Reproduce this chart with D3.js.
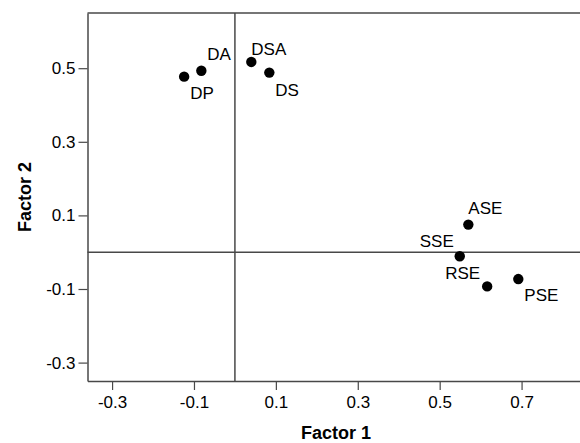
<!DOCTYPE html>
<html>
<head>
<meta charset="utf-8">
<script src="https://cdn.jsdelivr.net/npm/d3@7"></script>
<style>
  body { margin: 0; background: #fff; }
  svg { display: block; font-family: "Liberation Sans", Arial, sans-serif; }
</style>
</head>
<body>
<svg id="chart" width="580" height="443"></svg>
<script>
var names   = ["DP", "DA", "DSA", "DS", "ASE", "SSE", "RSE", "PSE"]
var factor1 = [-0.124, -0.082, 0.040, 0.084, 0.570, 0.549, 0.616, 0.692]
var factor2 = [0.477, 0.493, 0.517, 0.488, 0.075, -0.011, -0.093, -0.073]
var xTicks  = [-0.3, -0.1, 0.1, 0.3, 0.5, 0.7]
var yTicks  = [-0.3, -0.1, 0.1, 0.3, 0.5]

// where each label sits relative to its dot
var labelPos = {
    DP:  {dx: 6,  dy: 22,  anchor: "start"},
    DA:  {dx: 6,  dy: -11, anchor: "start"},
    DSA: {dx: 0,  dy: -7,  anchor: "start"},
    DS:  {dx: 6,  dy: 23,  anchor: "start"},
    ASE: {dx: 0,  dy: -11, anchor: "start"},
    SSE: {dx: -6, dy: -9,  anchor: "end"},
    RSE: {dx: -7, dy: -7,  anchor: "end"},
    PSE: {dx: 6,  dy: 22,  anchor: "start"}
}

var data = names.map((n, i) => ({name: n, f1: factor1[i], f2: factor2[i]}))

var margin = ({top: 13, right: -3, bottom: 62, left: 87.5})
var width = 580
var height = 443
var lineColor = "#484848"

var svg = d3.select("#chart")

var x = d3.scaleLinear()
    .domain([-0.36, 0.85])
    .range([margin.left, width - margin.right])
var y = d3.scaleLinear()
    .domain([-0.35, 0.65])
    .range([height - margin.bottom, margin.top])

var xAxis = g => g
    .attr("transform", `translate(0,${height - margin.bottom})`)
    .call(d3.axisBottom(x).tickValues(xTicks).tickFormat(d => d.toFixed(1)).tickSize(9).tickPadding(6).tickSizeOuter(0))
var yAxis = g => g
    .attr("transform", `translate(${margin.left},0)`)
    .call(d3.axisLeft(y).tickValues(yTicks).tickFormat(d => d.toFixed(1)).tickSize(9).tickPadding(3).tickSizeOuter(0))

function styleAxis(g) {
    g.select(".domain").attr("stroke", lineColor).attr("stroke-width", 1.5)
    g.selectAll(".tick line").attr("stroke", lineColor).attr("stroke-width", 1.2)
    g.selectAll(".tick text").attr("fill", "#000").attr("font-size", 17)
        .attr("font-family", "Liberation Sans, Arial, sans-serif")
}

svg.append("g").call(xAxis).call(styleAxis)
svg.append("g").call(yAxis).call(styleAxis)

// top border of the frame
svg.append("line")
    .attr("x1", x.range()[0]).attr("x2", x.range()[1])
    .attr("y1", y(0.65)).attr("y2", y(0.65))
    .attr("stroke", lineColor).attr("stroke-width", 1.5)

// reference lines at zero
svg.append("line")
    .attr("x1", x(0)).attr("x2", x(0))
    .attr("y1", y.range()[1]).attr("y2", y.range()[0])
    .attr("stroke", lineColor).attr("stroke-width", 1.5)
svg.append("line")
    .attr("x1", x.range()[0]).attr("x2", x.range()[1])
    .attr("y1", y(0)).attr("y2", y(0))
    .attr("stroke", lineColor).attr("stroke-width", 1.5)

svg.append("g")
    .selectAll("circle")
    .data(data)
    .join("circle")
    .attr("cx", d => x(d.f1))
    .attr("cy", d => y(d.f2))
    .attr("r", 5.2)
    .attr("fill", "#000")

svg.append("g")
    .selectAll("text")
    .data(data)
    .join("text")
    .attr("x", d => x(d.f1) + labelPos[d.name].dx)
    .attr("y", d => y(d.f2) + labelPos[d.name].dy)
    .attr("text-anchor", d => labelPos[d.name].anchor)
    .attr("font-size", 17)
    .text(d => d.name)

svg.append("text")
    .attr("x", 336)
    .attr("y", 439)
    .attr("text-anchor", "middle")
    .attr("font-size", 18)
    .attr("font-weight", "bold")
    .text("Factor 1")

svg.append("text")
    .attr("transform", `translate(31,${(y.range()[0] + y.range()[1]) / 2}) rotate(-90)`)
    .attr("text-anchor", "middle")
    .attr("font-size", 18)
    .attr("font-weight", "bold")
    .text("Factor 2")
</script>
</body>
</html>
